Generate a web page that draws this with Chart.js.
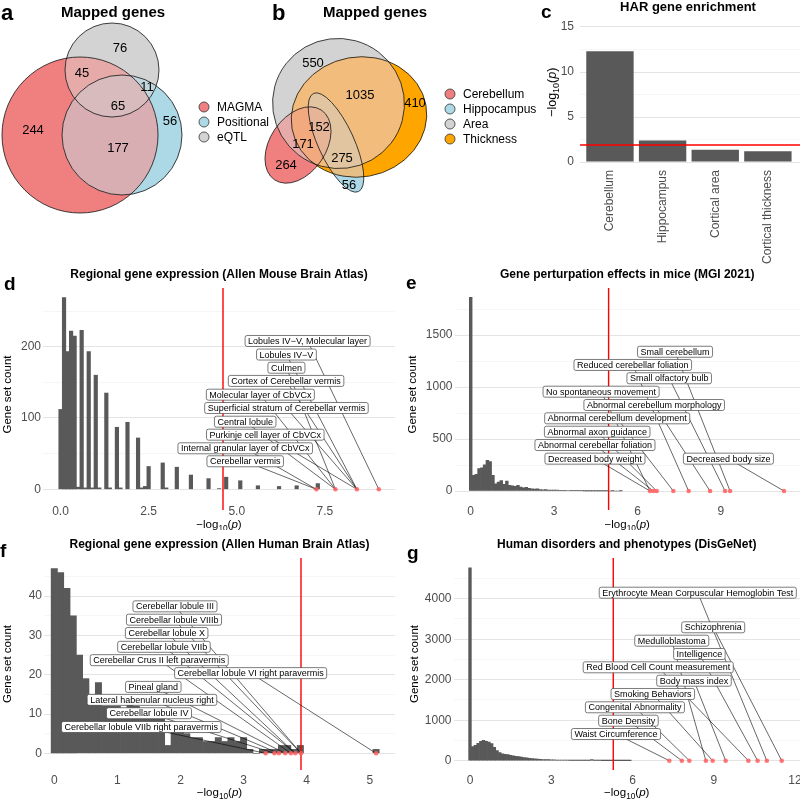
<!DOCTYPE html>
<html>
<head>
<meta charset="utf-8">
<script src="https://cdn.jsdelivr.net/npm/chart.js@4.4.1/dist/chart.umd.min.js"></script>
<style>
  html, body { margin: 0; padding: 0; background: #fff; }
  body { width: 800px; height: 802px; position: relative; overflow: hidden; }
  canvas { position: absolute; }
</style>
</head>
<body>
<canvas id="panelA"></canvas>
<canvas id="panelB"></canvas>
<canvas id="panelC"></canvas>
<canvas id="panelD"></canvas>
<canvas id="panelE"></canvas>
<canvas id="panelF"></canvas>
<canvas id="panelG"></canvas>
<script>
const FONT = '"Liberation Sans", Arial, Helvetica, sans-serif';

// ---------- a: mapped genes (MAGMA / positional / eQTL) ----------
const vennASets = ["MAGMA", "Positional", "eQTL"];
const vennAColors = ["#F08080", "#ADD8E6", "#D3D3D3"];
const vennARegions = [[0], [0, 2], [2], [0, 1, 2], [1, 2], [1], [0, 1]];
const vennACounts = [244, 45, 76, 65, 11, 56, 177];

// ---------- b: mapped genes per trait ----------
const vennBSets = ["Cerebellum", "Hippocampus", "Area", "Thickness"];
const vennBColors = ["#F08080", "#ADD8E6", "#D3D3D3", "#FFA500"];
const vennBRegions = [[2], [2, 3], [3], [0, 1, 2, 3], [0, 2, 3], [1, 2, 3], [0], [1]];
const vennBCounts = [550, 1035, 410, 152, 171, 275, 264, 56];

// ---------- c: HAR gene enrichment ----------
const harCategories = ["Cerebellum", "Hippocampus", "Cortical area", "Cortical thickness"];
const harValues = [12.3, 2.4, 1.37, 1.19];
const harThreshold = 1.9;

// ---------- d: Allen Mouse Brain Atlas ----------
const mouseBins = [0.0, 0.1, 0.2, 0.3, 0.4, 0.5, 0.6, 0.7, 0.8, 0.9, 1.0, 1.1, 1.3, 1.4, 1.6, 1.7, 1.9,
  2.2, 2.3, 2.4, 2.5, 2.9, 3.0, 3.3, 3.7, 4.2, 4.5, 4.7, 5.1, 5.6, 6.2, 6.7, 7.3];
const mouseCounts = [112, 269, 193, 222, 215, 3, 223, 2, 193, 2, 160, 2, 135, 2, 87, 2, 94,
  72, 2, 4, 32, 37, 2, 31, 20, 15, 1, 17, 12, 5, 4, 5, 8];
const mousePoints = [7.26, 7.80, 8.41, 9.03];
const mouseLabels = ["Lobules IV\u2212V, Molecular layer", "Lobules IV\u2212V", "Culmen",
  "Cortex of Cerebellar vermis", "Molecular layer of CbVCx", "Superficial stratum of Cerebellar vermis",
  "Central lobule", "Purkinje cell layer of CbVCx", "Internal granular layer of CbVCx", "Cerebellar vermis"];
const mouseLabelTargets = [3, 2, 1, 2, 1, 2, 1, 2, 0, 0];
const mouseThreshold = 4.61;

// ---------- e: MGI 2021 ----------
const mgiCounts = [1862, 150, 160, 215, 222, 252, 295, 282, 150, 70, 85, 100, 65, 95, 55, 50, 45, 55, 38, 30,
  35, 25, 20, 18, 20, 15, 12, 13, 10, 9, 10, 8, 7, 6, 7, 5, 4, 4, 3, 4, 3, 2, 2, 2, 1, 2, 1, 1, 1, 1, 0, 1, 0, 0, 1];
const mgiBinWidth = 0.1;
const mgiPoints = [6.45, 6.57, 6.69, 7.29, 7.84, 8.61, 9.15, 9.33, 11.27];
const mgiLabels = ["Small cerebellum", "Reduced cerebellar foliation", "Small olfactory bulb",
  "No spontaneous movement", "Abnormal cerebellum morphology", "Abnormal cerebellum development",
  "Abnormal axon guidance", "Abnormal cerebellar foliation", "Decreased body weight", "Decreased body size"];
const mgiLabelTargets = [7, 4, 6, 0, 5, 3, 2, 1, 0, 8];
const mgiThreshold = 4.96;

// ---------- f: Allen Human Brain Atlas ----------
const humanBins = [0.0, 0.1, 0.2, 0.3, 0.4, 0.5, 0.6, 0.7, 0.8, 0.9, 1.0, 1.1, 1.2, 1.3, 1.4, 1.5, 1.6, 1.7, 1.8, 1.9,
  2.0, 2.1, 2.2, 2.3, 2.4, 2.5, 2.6, 2.7, 2.8, 2.9, 3.0, 3.1, 3.2, 3.3, 3.4, 3.5, 3.6, 3.7, 3.8, 3.9, 5.1];
const humanCounts = [47, 46, 42, 35, 25, 19, 15, 18, 12, 12, 12, 11, 13, 12, 10, 10, 10, 10, 2, 6,
  6, 5, 4, 4, 3, 3, 4, 3, 4, 3, 4, 1, 0, 1, 1, 1, 2, 2, 1, 2, 1];
const humanPoints = [3.35, 3.49, 3.56, 3.66, 3.75, 3.82, 3.91, 5.10];
const humanLabels = ["Cerebellar lobule III", "Cerebellar lobule VIIIb", "Cerebellar lobule X",
  "Cerebellar lobule VIIb", "Cerebellar Crus II left paravermis", "Cerebellar lobule VI right paravermis",
  "Pineal gland", "Lateral habenular nucleus right", "Cerebellar lobule IV", "Cerebellar lobule VIIb right paravermis"];
const humanLabelTargets = [6, 6, 5, 5, 4, 7, 3, 2, 1, 0];
const humanThreshold = 3.91;

// ---------- g: DisGeNet ----------
const disgenetCounts = [4765, 346, 380, 430, 480, 500, 480, 460, 420, 330, 250, 200, 170, 160, 150, 130, 120, 110, 100, 90,
  80, 70, 60, 55, 45, 40, 35, 30, 28, 25, 22, 20, 18, 16, 14, 12, 11, 10, 9, 8,
  7, 7, 6, 6, 5, 30, 5, 4, 4, 3, 3, 3, 2, 2, 2, 2, 1, 1, 1, 1];
const disgenetBinWidth = 0.1;
const disgenetPoints = [7.36, 7.82, 8.10, 8.71, 8.96, 9.44, 10.28, 10.62, 10.96, 11.51];
const disgenetLabels = ["Erythrocyte Mean Corpuscular Hemoglobin Test", "Schizophrenia", "Medulloblastoma",
  "Intelligence", "Red Blood Cell Count measurement", "Body mass index", "Smoking Behaviors",
  "Congenital Abnormality", "Bone Density", "Waist Circumference"];
const disgenetLabelTargets = [8, 9, 3, 7, 6, 5, 4, 2, 1, 0];
const disgenetThreshold = 5.29;

// ---------- layout (not data) ----------
// euler shapes: centre x, centre y, semi-axis a, semi-axis b, rotation (deg)
const vennALayout = [[80, 135, 78, 78, 0], [122, 135, 60, 60, 0], [112, 70, 47, 47, 0]];
const vennALabelPos = [[33, 130], [82, 73], [120, 48], [118, 106], [147, 87], [170, 121], [118, 148]];
const vennBLayout = [[38, 145, 42, 28, -56], [76, 142.5, 54, 18, 65.4], [78.5, 103.5, 66, 65, 15], [99, 117, 68, 60, -10]];
const vennBLabelPos = [[53, 63], [100, 95], [155, 103], [59, 127], [43, 144], [82, 158], [26, 165], [89, 185]];
// repelled label positions in data units
const mouseLabelPos = [[7.01, 208], [6.41, 189], [6.41, 170.5], [6.40, 152], [5.67, 132.7], [6.41, 114],
  [5.24, 94.8], [5.81, 76.6], [5.24, 57.5], [5.24, 39.3]];
const mgiLabelPos = [[7.35, 1339], [5.83, 1212], [7.14, 1084], [4.69, 955], [6.60, 827], [5.27, 699],
  [4.55, 570], [4.47, 442], [4.47, 311], [9.27, 311]];
const humanLabelPos = [[1.913, 37.4], [1.897, 34.0], [1.781, 30.6], [1.738, 27.1], [1.664, 23.7], [3.112, 20.4],
  [1.569, 16.9], [1.548, 13.6], [1.501, 10.2], [1.379, 6.7]];
const disgenetLabelPos = [[8.41, 4148], [8.98, 3294], [7.45, 2963], [8.47, 2635], [6.95, 2306], [8.27, 1975],
  [6.75, 1647], [6.09, 1319], [5.85, 988], [5.39, 659]];

Chart.defaults.font.family = FONT;
Chart.defaults.animation = false;
Chart.defaults.events = [];
Chart.defaults.plugins.legend.display = false;
Chart.defaults.plugins.tooltip.enabled = false;

function place(id, box) {
  const cv = document.getElementById(id);
  cv.width = box.W;
  cv.height = box.H;
  cv.style.left = box.L + "px";
  cv.style.top = box.T + "px";
  return cv;
}

// colour mixing in CIELab, like eulerr does for overlaps
function hexRgb(h) {
  const n = parseInt(h.slice(1), 16);
  return [(n >> 16) & 255, (n >> 8) & 255, n & 255];
}
function toLin(c) {
  c /= 255;
  return c <= 0.04045 ? c / 12.92 : Math.pow((c + 0.055) / 1.055, 2.4);
}
function fromLin(c) {
  const v = c <= 0.0031308 ? 12.92 * c : 1.055 * Math.pow(c, 1 / 2.4) - 0.055;
  return Math.round(Math.max(0, Math.min(1, v)) * 255);
}
function rgbToLab(rgb) {
  const R = toLin(rgb[0]), G = toLin(rgb[1]), B = toLin(rgb[2]);
  const X = (0.4124 * R + 0.3576 * G + 0.1805 * B) / 0.95047;
  const Y = 0.2126 * R + 0.7152 * G + 0.0722 * B;
  const Z = (0.0193 * R + 0.1192 * G + 0.9505 * B) / 1.08883;
  const f = (t) => (t > 0.008856 ? Math.cbrt(t) : 7.787 * t + 16 / 116);
  const fx = f(X), fy = f(Y), fz = f(Z);
  return [116 * fy - 16, 500 * (fx - fy), 200 * (fy - fz)];
}
function labToRgb(lab) {
  const fy = (lab[0] + 16) / 116, fx = fy + lab[1] / 500, fz = fy - lab[2] / 200;
  const fi = (t) => (t * t * t > 0.008856 ? t * t * t : (t - 16 / 116) / 7.787);
  const X = fi(fx) * 0.95047, Y = fi(fy), Z = fi(fz) * 1.08883;
  return [
    fromLin(3.2406 * X - 1.5372 * Y - 0.4986 * Z),
    fromLin(-0.9689 * X + 1.8758 * Y + 0.0415 * Z),
    fromLin(0.0557 * X - 0.204 * Y + 1.057 * Z),
  ];
}
function mixColors(cols) {
  const s = [0, 0, 0];
  cols.forEach((c) => {
    const l = rgbToLab(hexRgb(c));
    s[0] += l[0]; s[1] += l[1]; s[2] += l[2];
  });
  const rgb = labToRgb(s.map((v) => v / cols.length));
  return "rgb(" + rgb.join(",") + ")";
}

// -log10(p) with subscript and italic p
function drawLogTitle(ctx, x, y, size, rotate) {
  ctx.save();
  ctx.translate(x, y);
  if (rotate) ctx.rotate(-Math.PI / 2);
  const parts = [
    { t: "\u2212log", f: `${size}px ${FONT}`, dy: 0 },
    { t: "10", f: `${(size * 0.72).toFixed(1)}px ${FONT}`, dy: size * 0.32 },
    { t: "(", f: `${size}px ${FONT}`, dy: 0 },
    { t: "p", f: `italic ${size}px ${FONT}`, dy: 0 },
    { t: ")", f: `${size}px ${FONT}`, dy: 0 },
  ];
  let w = 0;
  parts.forEach((p) => { ctx.font = p.f; p.w = ctx.measureText(p.t).width; w += p.w; });
  let cx = -w / 2;
  ctx.fillStyle = "#000";
  ctx.textAlign = "left";
  ctx.textBaseline = "middle";
  parts.forEach((p) => { ctx.font = p.f; ctx.fillText(p.t, cx, p.dy); cx += p.w; });
  ctx.restore();
}

// Venn / euler diagram drawn through a scatter chart's scales
function makeVenn(cfg) {
  const cv = place(cfg.id, cfg.box);
  const vennPlugin = {
    id: "venn",
    beforeDatasetsDraw(chart) {
      const { ctx, scales: { x, y } } = chart;
      const path = (s) => {
        ctx.beginPath();
        ctx.ellipse(x.getPixelForValue(s[0]), y.getPixelForValue(s[1]),
          Math.abs(x.getPixelForValue(s[0] + s[2]) - x.getPixelForValue(s[0])),
          Math.abs(y.getPixelForValue(s[1] + s[3]) - y.getPixelForValue(s[1])),
          (s[4] * Math.PI) / 180, 0, 2 * Math.PI);
      };
      const n = cfg.layout.length;
      const bits = (m) => m.toString(2).split("1").length - 1;
      const masks = [];
      for (let m = 1; m < 1 << n; m++) masks.push(m);
      masks.sort((a, b) => bits(a) - bits(b));
      masks.forEach((m) => {
        ctx.save();
        const cols = [];
        for (let i = 0; i < n; i++) {
          if (m & (1 << i)) { path(cfg.layout[i]); ctx.clip(); cols.push(cfg.colors[i]); }
        }
        ctx.fillStyle = mixColors(cols);
        ctx.fillRect(0, 0, chart.width, chart.height);
        ctx.restore();
      });
      ctx.save();
      ctx.strokeStyle = "#111";
      ctx.lineWidth = 0.8;
      cfg.layout.forEach((s) => { path(s); ctx.stroke(); });
      ctx.restore();
    },
    afterDatasetsDraw(chart) {
      const ctx = chart.ctx;
      const meta = chart.getDatasetMeta(0);
      ctx.save();
      ctx.fillStyle = "#000";
      ctx.font = `13px ${FONT}`;
      ctx.textAlign = "center";
      ctx.textBaseline = "middle";
      meta.data.forEach((pt, i) => ctx.fillText(String(cfg.counts[i]), pt.x, pt.y));
      ctx.restore();
    },
    afterDraw(chart) {
      const ctx = chart.ctx;
      ctx.save();
      ctx.fillStyle = "#000";
      ctx.font = `bold 22px ${FONT}`;
      ctx.textAlign = "left";
      ctx.textBaseline = "alphabetic";
      ctx.fillText(cfg.letter, cfg.letterPos[0], cfg.letterPos[1]);
      ctx.font = `bold 15px ${FONT}`;
      ctx.textAlign = "center";
      ctx.textBaseline = "middle";
      ctx.fillText("Mapped genes", cfg.titleX, 13);
      ctx.font = `12px ${FONT}`;
      ctx.textAlign = "left";
      cfg.sets.forEach((s, i) => {
        const ly = cfg.legendY + i * cfg.legendStep;
        ctx.beginPath();
        ctx.arc(cfg.legendX, ly, 5, 0, 2 * Math.PI);
        ctx.fillStyle = cfg.colors[i];
        ctx.fill();
        ctx.strokeStyle = "#333";
        ctx.lineWidth = 0.8;
        ctx.stroke();
        ctx.fillStyle = "#000";
        ctx.fillText(s, cfg.legendX + 13, ly + 0.5);
      });
      ctx.restore();
    },
  };
  new Chart(cv, {
    type: "scatter",
    data: { datasets: [{ data: cfg.labelPos.map((p) => ({ x: p[0], y: p[1] })), pointRadius: 0 }] },
    options: {
      responsive: false,
      devicePixelRatio: 1,
      layout: { padding: 0 },
      scales: {
        x: { type: "linear", display: false, min: 0, max: cfg.box.W },
        y: { type: "linear", display: false, min: 0, max: cfg.box.H, reverse: true },
      },
    },
    plugins: [vennPlugin],
  });
}

makeVenn({
  id: "panelA", box: { L: 0, T: 0, W: 275, H: 230 },
  sets: vennASets, colors: vennAColors, counts: vennACounts,
  layout: vennALayout, labelPos: vennALabelPos,
  letter: "a", letterPos: [1, 20], titleX: 113,
  legendX: 204, legendY: 107, legendStep: 15,
});
makeVenn({
  id: "panelB", box: { L: 260, T: 0, W: 285, H: 230 },
  sets: vennBSets, colors: vennBColors, counts: vennBCounts,
  layout: vennBLayout, labelPos: vennBLabelPos,
  letter: "b", letterPos: [12, 20], titleX: 115,
  legendX: 190, legendY: 94, legendStep: 15,
});

// ---------- c ----------
(function makeHar() {
  const B = { L: 520, T: 0, W: 290, H: 270 };
  const A = { l: 580, t: 22.5, r: 800, b: 162 };
  const cv = place("panelC", B);
  const isMajor = (v) => v % 5 === 0;
  new Chart(cv, {
    type: "bar",
    data: {
      datasets: [{
        data: harValues.map((v, i) => ({ x: i + 1, y: v })),
        backgroundColor: "#595959", borderWidth: 0, barPercentage: 0.9, categoryPercentage: 1,
      }],
    },
    options: {
      responsive: false,
      devicePixelRatio: 1,
      layout: { padding: { left: 0, top: A.t - B.T, right: B.L + B.W - A.r, bottom: 0 } },
      scales: {
        x: {
          type: "linear", offset: false, min: 0.431, max: 4.61,
          grid: { display: false, drawTicks: false, offset: false }, border: { display: false },
          afterBuildTicks: (s) => { s.ticks = harCategories.map((c, i) => ({ value: i + 1 })); },
          afterFit: (s) => { s.height = B.T + B.H - A.b; },
          ticks: {
            autoSkip: false, minRotation: 90, maxRotation: 90, padding: 8,
            color: "#4D4D4D", font: { size: 12 },
            callback: (v) => harCategories[Math.round(v) - 1],
          },
        },
        y: {
          type: "linear", min: 0, max: 15.5,
          border: { display: false },
          grid: {
            drawTicks: false,
            color: (c) => (c.tick && isMajor(c.tick.value) ? "#E4E4E4" : "#F0F0F0"),
            lineWidth: (c) => (c.tick && isMajor(c.tick.value) ? 1 : 0.6),
          },
          afterBuildTicks: (s) => { s.ticks = [0, 2.5, 5, 7.5, 10, 12.5, 15].map((v) => ({ value: v })); },
          afterFit: (s) => { s.width = A.l - B.L; },
          ticks: { autoSkip: false, padding: 6, color: "#4D4D4D", font: { size: 12 }, callback: (v) => (isMajor(v) ? String(v) : "") },
        },
      },
    },
    plugins: [{
      id: "harDecor",
      afterDatasetsDraw(chart) {
        const { ctx, chartArea: ca, scales: { y } } = chart;
        const hy = y.getPixelForValue(harThreshold);
        ctx.save();
        ctx.strokeStyle = "#FF0000";
        ctx.lineWidth = 1.5;
        ctx.beginPath();
        ctx.moveTo(ca.left, hy);
        ctx.lineTo(ca.right, hy);
        ctx.stroke();
        ctx.restore();
      },
      afterDraw(chart) {
        const { ctx, chartArea: ca } = chart;
        ctx.save();
        ctx.fillStyle = "#000";
        ctx.font = `bold 19px ${FONT}`;
        ctx.textAlign = "left";
        ctx.textBaseline = "alphabetic";
        ctx.fillText("c", 21, 18);
        ctx.font = `bold 13px ${FONT}`;
        ctx.textAlign = "center";
        ctx.textBaseline = "middle";
        ctx.fillText("HAR gene enrichment", 168, 7);
        ctx.restore();
        drawLogTitle(ctx, 33, (ca.top + ca.bottom) / 2, 12.5, true);
      },
    }],
  });
})();

// ---------- histograms d-g ----------
function histDecor(cfg) {
  return {
    id: "histDecor",
    afterDatasetDraw(chart, args) {
      if (args.meta.type !== "bar") return;
      const { ctx, chartArea: ca, scales: { x, y } } = chart;
      ctx.save();
      ctx.strokeStyle = "#FF0000";
      ctx.lineWidth = 1.4;
      const vx = x.getPixelForValue(cfg.threshold);
      ctx.beginPath();
      ctx.moveTo(vx, ca.top);
      ctx.lineTo(vx, ca.bottom + cfg.vlineExtra);
      ctx.stroke();
      ctx.strokeStyle = "#000";
      ctx.lineWidth = 0.6;
      cfg.labels.forEach((t, i) => {
        const p = cfg.labelPos[i];
        ctx.beginPath();
        ctx.moveTo(x.getPixelForValue(p[0]), y.getPixelForValue(p[1]));
        ctx.lineTo(x.getPixelForValue(cfg.points[cfg.targets[i]]), y.getPixelForValue(0));
        ctx.stroke();
      });
      ctx.restore();
    },
    afterDatasetsDraw(chart) {
      const { ctx, scales: { x, y } } = chart;
      ctx.save();
      ctx.font = `9px ${FONT}`;
      ctx.textAlign = "center";
      ctx.textBaseline = "middle";
      cfg.labels.forEach((t, i) => {
        const p = cfg.labelPos[i];
        const cx = x.getPixelForValue(p[0]);
        const cy = y.getPixelForValue(p[1]);
        const w = ctx.measureText(t).width + 6;
        const h = 11;
        ctx.beginPath();
        ctx.roundRect(cx - w / 2, cy - h / 2, w, h, 2);
        ctx.fillStyle = "#fff";
        ctx.fill();
        ctx.strokeStyle = "#444";
        ctx.lineWidth = 0.7;
        ctx.stroke();
        ctx.fillStyle = "#000";
        ctx.fillText(t, cx, cy + 0.5);
      });
      ctx.restore();
    },
    afterDraw(chart) {
      const { ctx, chartArea: ca } = chart;
      const B = cfg.box;
      ctx.save();
      ctx.fillStyle = "#000";
      ctx.font = `bold 19px ${FONT}`;
      ctx.textAlign = "left";
      ctx.textBaseline = "alphabetic";
      ctx.fillText(cfg.letter, cfg.letterPos[0] - B.L, cfg.letterPos[1] - B.T);
      ctx.font = `bold 12px ${FONT}`;
      ctx.textAlign = "center";
      ctx.textBaseline = "middle";
      ctx.fillText(cfg.title, (ca.left + ca.right) / 2, cfg.titleY - B.T);
      ctx.restore();
      drawLogTitle(ctx, (ca.left + ca.right) / 2, cfg.xTitleY - B.T, 11.5, false);
      ctx.save();
      ctx.translate(cfg.yTitleX - B.L, (ca.top + ca.bottom) / 2);
      ctx.rotate(-Math.PI / 2);
      ctx.fillStyle = "#000";
      ctx.font = `11.5px ${FONT}`;
      ctx.textAlign = "center";
      ctx.textBaseline = "middle";
      ctx.fillText("Gene set count", 0, 0);
      ctx.restore();
    },
  };
}

function makeHist(cfg) {
  const B = cfg.box, A = cfg.area;
  const cv = place(cfg.id, B);
  const isMajorY = (v) => Math.abs(v / cfg.yMajor - Math.round(v / cfg.yMajor)) < 1e-9;
  new Chart(cv, {
    type: "bar",
    data: {
      datasets: [
        {
          type: "scatter", order: 0,
          data: cfg.points.map((v) => ({ x: v, y: 0 })),
          pointRadius: 2.3, pointBackgroundColor: "rgba(255,95,95,0.85)", pointBorderWidth: 0,
        },
        {
          type: "bar", order: 1,
          data: cfg.bins.map((v, i) => ({ x: v, y: cfg.counts[i] })),
          backgroundColor: "#595959", borderWidth: 0, barPercentage: 1, categoryPercentage: 1,
        },
      ],
    },
    options: {
      responsive: false,
      devicePixelRatio: 1,
      layout: { padding: { left: 0, top: A.t - B.T, right: B.L + B.W - A.r, bottom: 0 } },
      scales: {
        x: {
          type: "linear", offset: false, min: cfg.xMin, max: cfg.xMax,
          grid: { display: false, drawTicks: false, offset: false }, border: { display: false },
          afterBuildTicks: (s) => { s.ticks = cfg.xTicks.map((v) => ({ value: v })); },
          afterFit: (s) => { s.height = B.T + B.H - A.b; },
          ticks: { autoSkip: false, maxRotation: 0, padding: 3, color: "#4D4D4D", font: { size: 12 }, callback: cfg.xFormat },
        },
        y: {
          type: "linear", min: cfg.yMin, max: cfg.yMax,
          border: { display: false },
          grid: {
            drawTicks: false,
            color: (c) => (c.tick && isMajorY(c.tick.value) ? "#E4E4E4" : "#F0F0F0"),
            lineWidth: (c) => (c.tick && isMajorY(c.tick.value) ? 1 : 0.6),
          },
          afterBuildTicks: (s) => { s.ticks = cfg.yTicks.map((v) => ({ value: v })); },
          afterFit: (s) => { s.width = A.l - B.L; },
          ticks: { autoSkip: false, padding: 2, color: "#4D4D4D", font: { size: 12 }, callback: (v) => (isMajorY(v) ? String(v) : "") },
        },
      },
    },
    plugins: [histDecor(cfg)],
  });
}

makeHist({
  id: "panelD", box: { L: 0, T: 258, W: 400, H: 272 }, area: { l: 43, t: 288, r: 395, b: 501 },
  bins: mouseBins, counts: mouseCounts, points: mousePoints,
  labels: mouseLabels, targets: mouseLabelTargets, labelPos: mouseLabelPos, threshold: mouseThreshold,
  xMin: -0.497, xMax: 9.49, yMin: -16.4, yMax: 282.3, yMajor: 100,
  xTicks: [0, 2.5, 5, 7.5], yTicks: [0, 50, 100, 150, 200, 250], xFormat: (v) => v.toFixed(1),
  vlineExtra: 9, letter: "d", letterPos: [4, 290], title: "Regional gene expression (Allen Mouse Brain Atlas)",
  titleY: 275, xTitleY: 525, yTitleX: 8,
});
makeHist({
  id: "panelE", box: { L: 400, T: 258, W: 410, H: 272 }, area: { l: 454.5, t: 288, r: 800, b: 501 },
  bins: mgiCounts.map((c, i) => i * mgiBinWidth), counts: mgiCounts, points: mgiPoints,
  labels: mgiLabels, targets: mgiLabelTargets, labelPos: mgiLabelPos, threshold: mgiThreshold,
  xMin: -0.583, xMax: 11.845, yMin: -96, yMax: 1952, yMajor: 500,
  xTicks: [0, 3, 6, 9], yTicks: [0, 250, 500, 750, 1000, 1250, 1500, 1750], xFormat: (v) => String(v),
  vlineExtra: 9, letter: "e", letterPos: [406, 289], title: "Gene perturpation effects in mice (MGI 2021)",
  titleY: 275, xTitleY: 525, yTitleX: 413,
});
makeHist({
  id: "panelF", box: { L: 0, T: 530, W: 400, H: 272 }, area: { l: 44, t: 558, r: 395, b: 770 },
  bins: humanBins, counts: humanCounts, points: humanPoints,
  labels: humanLabels, targets: humanLabelTargets, labelPos: humanLabelPos, threshold: humanThreshold,
  xMin: -0.163, xMax: 5.4, yMin: -4.25, yMax: 49.7, yMajor: 10,
  xTicks: [0, 1, 2, 3, 4, 5], yTicks: [0, 5, 10, 15, 20, 25, 30, 35, 40, 45], xFormat: (v) => String(v),
  vlineExtra: 0, letter: "f", letterPos: [0, 557], title: "Regional gene expression (Allen Human Brain Atlas)",
  titleY: 545, xTitleY: 793, yTitleX: 8,
});
makeHist({
  id: "panelG", box: { L: 400, T: 530, W: 410, H: 272 }, area: { l: 453.5, t: 558, r: 800, b: 770 },
  bins: disgenetCounts.map((c, i) => i * disgenetBinWidth), counts: disgenetCounts, points: disgenetPoints,
  labels: disgenetLabels, targets: disgenetLabelTargets, labelPos: disgenetLabelPos, threshold: disgenetThreshold,
  xMin: -0.609, xMax: 12.185, yMin: -229.6, yMax: 5005, yMajor: 1000,
  xTicks: [0, 3, 6, 9, 12], yTicks: [0, 500, 1000, 1500, 2000, 2500, 3000, 3500, 4000, 4500], xFormat: (v) => String(v),
  vlineExtra: 0, letter: "g", letterPos: [407, 559], title: "Human disorders and phenotypes (DisGeNet)",
  titleY: 545, xTitleY: 793, yTitleX: 415,
});
</script>
</body>
</html>
